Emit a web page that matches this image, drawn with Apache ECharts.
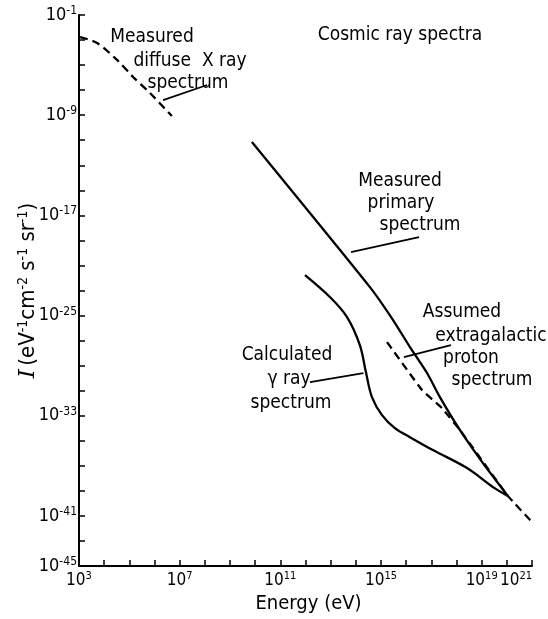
<!DOCTYPE html>
<html>
<head>
<meta charset="utf-8">
<script src="https://cdn.jsdelivr.net/npm/echarts@6/dist/echarts.min.js"></script>
<style>
  html, body { margin: 0; background: #fff; }
  #chart { width: 548px; height: 619px; }
</style>
</head>
<body>
<div id="chart"></div>
<script>
// everything is in powers of ten: log10(E / eV) and log10(I)
const energyTicks = [3, 7, 11, 15, 19, 21];
const intensityTicks = [-1, -9, -17, -25, -33, -41, -45];

// measured diffuse X ray spectrum (dashed)
const xrayE = [3.04, 3.72, 4.51, 5.15, 5.82, 6.69];
const xrayI = [-2.76, -3.24, -4.59, -5.95, -7.23, -9.07];

// measured primary spectrum
const primaryE = [9.87, 14.56, 15.48, 16.15, 16.83, 17.34, 18.14, 19.05, 20.04];
const primaryI = [-11.14, -22.73, -25.36, -27.52, -29.59, -31.51, -34.15, -36.78, -39.40];

// assumed extragalactic proton spectrum (dashed)
const protonE = [15.24, 16.63, 17.42, 18.14, 20.04, 21.04];
const protonI = [-27.12, -30.95, -32.39, -34.15, -39.40, -41.57];

// calculated gamma ray spectrum
const gammaE = [11.98, 12.97, 13.65, 14.16, 14.40, 14.64, 15.04, 15.55, 16.15, 17.06, 18.42, 19.45, 20.04];
const gammaI = [-21.77, -23.52, -25.12, -27.36, -29.51, -31.51, -32.95, -33.99, -34.71, -35.74, -37.18, -38.70, -39.40];

// leader lines from the labels to the curves
const leaderFromE = [6.34, 13.81, 15.91, 12.18];
const leaderFromI = [-7.79, -19.93, -28.32, -30.31];
const leaderToE = [8.09, 16.51, 17.78, 14.30];
const leaderToI = [-6.59, -18.73, -27.36, -29.59];

const FONT = '"DejaVu Sans Condensed", "DejaVu Sans", sans-serif';
const BLACK = '#000';

const pairs = (xs, ys) => xs.map((x, i) => [x, ys[i]]);

const tickRich = (big, small) => ({
  b: { fontFamily: FONT, fontSize: big, color: BLACK, lineHeight: big + 2 },
  s: { fontFamily: FONT, fontSize: small, color: BLACK, lineHeight: small, verticalAlign: 'top' },
});

const powerLabel = (v) => `{b|10}{s|${v}}`;

function curve(xs, ys, dashed, smooth) {
  return {
    type: 'line',
    data: pairs(xs, ys),
    symbol: 'none',
    smooth: smooth,
    silent: true,
    lineStyle: { color: BLACK, width: 2.3, type: dashed ? [8, 5] : 'solid' },
  };
}

const leaders = leaderFromE.map((e, i) => ({
  type: 'line',
  data: [[e, leaderFromI[i]], [leaderToE[i], leaderToI[i]]],
  symbol: 'none',
  silent: true,
  lineStyle: { color: BLACK, width: 1.8 },
}));

function label(text, x, y) {
  return {
    type: 'text',
    x: x,
    y: y,
    style: { text: text, fill: BLACK, font: '19px ' + FONT, align: 'center', verticalAlign: 'middle' },
  };
}

const chart = echarts.init(document.getElementById('chart'));

chart.setOption({
  animation: false,
  backgroundColor: '#fff',
  grid: { left: 79, right: 16, top: 15, bottom: 53, outerBoundsMode: 'none', containLabel: false },
  xAxis: {
    type: 'value',
    min: 3,
    max: 21,
    interval: 1,
    axisLine: { lineStyle: { color: BLACK, width: 2 } },
    axisTick: { inside: true, length: 6, lineStyle: { color: BLACK, width: 1.5 } },
    splitLine: { show: false },
    axisLabel: {
      margin: 5,
      alignMaxLabel: 'right',
      formatter: (v) => (energyTicks.includes(v) ? powerLabel(v) : ''),
      rich: tickRich(17, 11),
    },
    name: 'Energy (eV)',
    nameLocation: 'middle',
    nameGap: 28,
    nameMoveOverlap: false,
    nameTextStyle: { fontFamily: FONT, fontSize: 20, color: BLACK, padding: [0, 0, 0, 6] },
  },
  yAxis: {
    type: 'value',
    min: -45,
    max: -1,
    interval: 2,
    axisLine: { lineStyle: { color: BLACK, width: 2 } },
    axisTick: { inside: true, length: 6, lineStyle: { color: BLACK, width: 1.5 } },
    splitLine: { show: false },
    axisLabel: {
      margin: 2,
      formatter: (v) => (intensityTicks.includes(v) ? powerLabel(v) : ''),
      rich: tickRich(18, 12),
    },
    name: '{i|I} {n|(eV}{s|-1}{n|cm}{s|-2}{n| s}{s|-1}{n| sr}{s|-1}{n|)}',
    nameLocation: 'middle',
    nameRotate: 90,
    nameGap: 39,
    nameMoveOverlap: false,
    nameTextStyle: {
      rich: {
        i: { fontFamily: '"DejaVu Serif", serif', fontStyle: 'italic', fontSize: 23, color: BLACK, lineHeight: 24 },
        n: { fontFamily: FONT, fontSize: 22, color: BLACK, lineHeight: 24 },
        s: { fontFamily: FONT, fontSize: 14, color: BLACK, lineHeight: 14, verticalAlign: 'top' },
      },
    },
  },
  series: [
    curve(xrayE, xrayI, true, 0.3),
    curve(primaryE, primaryI, false, 0.2),
    curve(protonE, protonI, true, 0.1),
    curve(gammaE, gammaI, false, 0.35),
  ].concat(leaders),
  graphic: [
    label('Cosmic ray spectra', 400, 35),
    label('Measured', 152, 37),
    label('diffuse  X ray', 190, 61),
    label('spectrum', 188, 83),
    label('Measured', 400, 181),
    label('primary', 401, 203),
    label('spectrum', 420, 225),
    label('Assumed', 462, 312),
    label('extragalactic', 491, 336),
    label('proton', 471, 358),
    label('spectrum', 492, 380),
    label('Calculated', 287, 355),
    label('\u03b3 ray', 289, 379),
    label('spectrum', 291, 403),
  ],
});
</script>
</body>
</html>
